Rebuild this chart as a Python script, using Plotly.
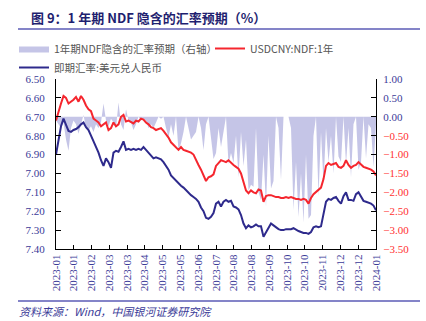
import plotly.graph_objects as go

# ---------------- data ----------------
tick_labels = ["2023-01", "2023-01", "2023-02", "2023-03", "2023-03", "2023-04",
               "2023-05", "2023-05", "2023-06", "2023-07", "2023-08", "2023-08",
               "2023-09", "2023-10", "2023-10", "2023-11", "2023-12", "2023-12",
               "2024-01"]

ndf_1y = [6.72, 6.67, 6.63, 6.59, 6.60, 6.63, 6.62, 6.61, 6.595, 6.62,
          6.59, 6.61, 6.64, 6.66, 6.67, 6.71, 6.72, 6.73, 6.75, 6.74,
          6.73, 6.77, 6.76, 6.73, 6.75, 6.74, 6.70, 6.69, 6.725, 6.72,
          6.73, 6.735, 6.72, 6.725, 6.71, 6.715, 6.73, 6.74, 6.755, 6.76,
          6.77, 6.765, 6.76, 6.775, 6.79, 6.81, 6.835, 6.85, 6.865, 6.875,
          6.86, 6.875, 6.88, 6.885, 6.89, 6.90, 6.93, 6.955, 6.98, 7.01,
          7.04, 7.02, 7.015, 7.005, 6.96, 6.945, 6.93, 6.935, 6.94, 6.93,
          6.945, 6.955, 6.965, 6.975, 7.00, 7.05, 7.09, 7.105, 7.09, 7.10,
          7.105, 7.085, 7.09, 7.15, 7.12, 7.115, 7.115, 7.12, 7.125, 7.125,
          7.13, 7.13, 7.125, 7.13, 7.125, 7.13, 7.135, 7.135, 7.14, 7.135,
          7.14, 7.16, 7.13, 7.11, 7.10, 7.09, 7.075, 7.03, 6.96, 6.945,
          6.955, 6.95, 6.945, 6.965, 6.97, 6.96, 6.93, 6.955, 6.97, 6.96,
          6.955, 6.94, 6.955, 6.965, 6.97, 6.975, 6.98, 6.99, 7.01]

spot = [6.90, 6.83, 6.75, 6.71, 6.74, 6.775, 6.78, 6.77, 6.765, 6.755,
        6.74, 6.73, 6.755, 6.77, 6.80, 6.83, 6.86, 6.89, 6.93, 6.96,
        6.92, 6.94, 6.97, 6.89, 6.88, 6.885, 6.86, 6.83, 6.875, 6.87,
        6.875, 6.87, 6.875, 6.87, 6.875, 6.86, 6.875, 6.89, 6.905, 6.92,
        6.915, 6.92, 6.925, 6.94, 6.96, 6.98, 7.01, 7.025, 7.04, 7.05,
        7.065, 7.075, 7.09, 7.10, 7.115, 7.125, 7.135, 7.15, 7.18, 7.20,
        7.235, 7.24, 7.23, 7.21, 7.16, 7.15, 7.175, 7.15, 7.14, 7.15,
        7.145, 7.175, 7.18, 7.19, 7.22, 7.265, 7.29, 7.275, 7.285, 7.28,
        7.27, 7.28, 7.28, 7.335, 7.31, 7.285, 7.265, 7.275, 7.285, 7.295,
        7.30, 7.30, 7.295, 7.295, 7.295, 7.29, 7.30, 7.305, 7.31, 7.315,
        7.315, 7.32, 7.31, 7.285, 7.28, 7.285, 7.28, 7.22, 7.15, 7.135,
        7.14, 7.13, 7.125, 7.145, 7.16, 7.12, 7.10, 7.14, 7.14, 7.145,
        7.11, 7.10, 7.125, 7.145, 7.15, 7.155, 7.16, 7.17, 7.195]

implied = [-0.1, -0.2, -0.3, -0.15, -0.6, -0.9, -0.3, -0.1, -0.2, -0.45,
           -0.2, 0.05, -0.3, -0.35, -0.25, -0.4, -0.2, -0.3, -0.15, 0.35,
           -0.1, -0.25, -0.05, -0.15, -0.3, 0.38, -0.2, -0.35, 0.2, -0.1,
           -0.15, -0.35, -0.2, 0.0, -0.1, -0.05, -0.1, -0.3, -0.2, -0.3,
           -0.15, 0.0, -0.05, 0.0, -0.3, -0.55, -0.2, -0.5, 0.0, -0.9,
           -0.7, -0.4, 0.0, -0.3, -0.6, -0.5, -0.4, 0.0, -0.3, -0.88,
           -0.2, 0.0, -0.6, -1.12, -0.96, -0.3, -0.8, -0.45, 0.0, -1.25,
           -0.96, -1.22, -0.5, -1.6, -0.4, -1.3, -0.6, -1.95, -1.8, -1.85,
           -0.3, -2.0, -2.2, -1.0, -2.38, -0.5, -1.9, -1.7, 0.0, -0.3,
           -1.67, 0.0, 0.0, 0.0, -0.3, -2.47, -1.2, -2.65, -1.5, -2.8,
           -1.0, -2.7, -2.6, -0.5, 0.0, -2.1, -0.4, -1.75, -0.3, -1.2,
           -0.5, -1.5, 0.0, -1.05, -1.2, 0.0, -1.25, -0.3, -1.6, -0.2,
           0.0, -1.4, -1.2, 0.0, -1.1, -0.2, -0.3, -1.33, -0.2]

left_ticks = [6.50, 6.60, 6.70, 6.80, 6.90, 7.00, 7.10, 7.20, 7.30, 7.40]
right_ticks = [1.00, 0.50, 0.00, -0.50, -1.00, -1.50, -2.00, -2.50, -3.00, -3.50]

# ---------------- styles ----------------
BLUE_TXT = "#3b3b98"
RED_TXT = "#ff3030"
RULE = "#8484c8"
SERIF = "Liberation Serif, Times New Roman, serif"
CJK = "Noto Sans CJK SC, sans-serif"

W, H = 426, 321
PLOT_L, PLOT_R, PLOT_T, PLOT_B = 56, 376, 79, 249   # plot-area edges in pixels
RULE_L, RULE_R = 18, 420


def px(xp):
    return xp / W


def py(yp):
    return 1 - yp / H


n = len(spot)
x = list(range(n))
span = n - 1
tickvals = [k * span / (len(tick_labels) - 1) for k in range(len(tick_labels))]

right_text = [
    f"<span style='color:{BLUE_TXT if v >= 0 else RED_TXT}'>{v:.2f}</span>".replace("-", "−")
    for v in right_ticks
]

fig = go.Figure()
fig.add_trace(go.Scatter(
    x=x, y=implied, name="1年期NDF隐含的汇率预期（右轴）",
    mode="lines", line=dict(width=0, color="#a9a9d8"),
    fill="tozeroy", fillcolor="rgba(150,150,212,0.55)",
    yaxis="y", legend="legend"))
fig.add_trace(go.Scatter(
    x=x, y=ndf_1y, name="USDCNY:NDF:1年", mode="lines",
    line=dict(color="#f5262e", width=2), yaxis="y2", legend="legend2"))
fig.add_trace(go.Scatter(
    x=x, y=spot, name="即期汇率:美元兑人民币", mode="lines",
    line=dict(color="#2e2a8c", width=2), yaxis="y2", legend="legend3"))
# empty carriers (own hidden y-axes) so the two decorative rule axes get drawn
fig.add_trace(go.Scatter(x=[], y=[], xaxis="x2", yaxis="y3", showlegend=False,
                         hoverinfo="skip"))
fig.add_trace(go.Scatter(x=[], y=[], xaxis="x3", yaxis="y4", showlegend=False,
                         hoverinfo="skip"))

leg_common = dict(orientation="h", xanchor="left", yanchor="top",
                  font=dict(family=CJK, size=10.5, color="#555555"),
                  bgcolor="rgba(0,0,0,0)", itemwidth=30)

rule_axis = dict(domain=[px(RULE_L), px(RULE_R)], anchor="free", range=[0, 1],
                 showline=True, linecolor=RULE, linewidth=1.6,
                 showticklabels=False, ticks="", showgrid=False, zeroline=False,
                 automargin=False, fixedrange=True)
hidden_y = dict(visible=False, anchor="free", position=0, range=[0, 1],
                showgrid=False, zeroline=False, automargin=False, fixedrange=True)

fig.update_layout(
    width=W, height=H,
    margin=dict(l=0, r=0, t=0, b=0, autoexpand=False),
    paper_bgcolor="white", plot_bgcolor="rgba(0,0,0,0)",
    showlegend=True,
    legend=dict(x=px(14), y=py(34), **leg_common),
    legend2=dict(x=px(210), y=py(34), **leg_common),
    legend3=dict(x=px(14), y=py(53), **leg_common),
    xaxis=dict(domain=[px(PLOT_L), px(PLOT_R)], range=[0, span],
               tickvals=tickvals, ticktext=tick_labels, automargin=False,
               tickangle=-90, ticks="inside", ticklen=4, tickcolor="black",
               showline=True, linecolor="black", linewidth=1.2,
               showgrid=False, zeroline=False,
               tickfont=dict(family=SERIF, size=11, color=BLUE_TXT)),
    xaxis2=dict(position=py(29), **rule_axis),
    xaxis3=dict(position=py(301), **rule_axis),
    yaxis=dict(domain=[py(PLOT_B), py(PLOT_T)], side="right", range=[-3.5, 1.0],
               tickvals=right_ticks, automargin=False,
               ticktext=right_text, ticks="inside", ticklen=5, tickcolor="black",
               showline=True, linecolor="black", linewidth=1.2,
               showgrid=False, zeroline=False, ticklabelstandoff=4,
               tickfont=dict(family=SERIF, size=11, color=BLUE_TXT)),
    yaxis2=dict(side="left", overlaying="y", range=[7.40, 6.50], automargin=False,
                tickvals=left_ticks, ticktext=[f"{v:.2f}" for v in left_ticks],
                ticks="inside", ticklen=5, tickcolor="black",
                showline=True, linecolor="black", linewidth=1.2,
                showgrid=False, zeroline=False, ticklabelstandoff=8,
                tickfont=dict(family=SERIF, size=11, color=BLUE_TXT)),
    yaxis3=dict(domain=[py(30), py(28)], **hidden_y),
    yaxis4=dict(domain=[py(302), py(300)], **hidden_y),
)

# title and source note
fig.add_annotation(text="<b>图 9：1 年期 NDF 隐含的汇率预期（%）</b>",
                   xref="paper", yref="paper", x=px(17), y=py(17), xshift=12,
                   xanchor="left", yanchor="middle", align="left", showarrow=False,
                   font=dict(family=CJK, size=13, color="#1f1f70"))
fig.add_annotation(text="<i>资料来源：Wind，中国银河证券研究院</i>",
                   xref="paper", yref="paper", x=px(17), y=py(311),
                   xanchor="left", yanchor="middle", align="left", showarrow=False,
                   font=dict(family=CJK, size=11, color=BLUE_TXT))

fig.write_html("out.html")
